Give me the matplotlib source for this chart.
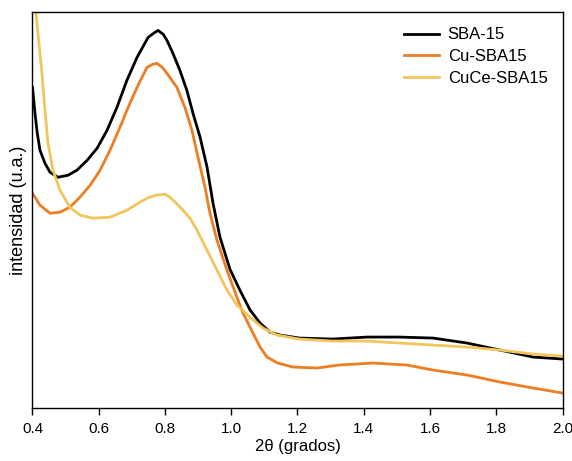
import matplotlib

matplotlib.use("Agg")

import matplotlib.pyplot as plt

plt.rcParams["font.family"] = ["Liberation Sans", "DejaVu Sans"]

# 2theta (degrees) and intensity (arbitrary units)
sba15_x = [0.400, 0.4075, 0.4145, 0.4226, 0.4377, 0.4528, 0.477, 0.507, 0.534, 0.565,
           0.595, 0.625, 0.655, 0.685, 0.7155, 0.749, 0.765, 0.779, 0.795, 0.806,
           0.824, 0.845, 0.866, 0.8845, 0.906, 0.927, 0.945, 0.966, 0.996, 1.026,
           1.057, 1.087, 1.117, 1.147, 1.206, 1.305, 1.41, 1.508, 1.609, 1.712,
           1.811, 1.911, 2.0]
sba15_y = [321, 295, 275, 258, 245, 236, 231, 233, 238, 248,
           260, 278, 301, 328, 351, 371, 375, 378, 374, 368,
           355, 338, 318, 295, 271, 241, 205, 171, 139, 118,
           98, 85, 76, 73, 70, 69, 71, 71, 70, 65,
           58, 51, 49]

cu_x = [0.400, 0.4226, 0.4528, 0.483, 0.513, 0.543, 0.574, 0.604, 0.634, 0.664,
        0.694, 0.720, 0.7457, 0.762, 0.776, 0.792, 0.806, 0.836, 0.860, 0.8815,
        0.8996, 0.9208, 0.9358, 0.957, 0.987, 1.017, 1.0355, 1.0657, 1.087, 1.108,
        1.14, 1.186, 1.259, 1.326, 1.428, 1.53, 1.609, 1.712, 1.811, 1.911,
        2.0]
cu_y = [215, 203, 195, 196, 201, 211, 223, 238, 258, 281,
        305, 324, 341, 344, 345, 341, 335, 321, 301, 278,
        251, 221, 195, 168, 138, 111, 95, 75, 61, 51,
        45, 41, 40, 43, 45, 43, 38, 33, 26, 20,
        15]

cuce_x = [0.400, 0.4127, 0.4278, 0.4377, 0.4468, 0.4619, 0.483, 0.513, 0.543, 0.583,
          0.634, 0.685, 0.7245, 0.7457, 0.772, 0.800, 0.815, 0.8242, 0.84, 0.8543,
          0.8755, 0.8966, 0.9268, 0.957, 0.9872, 1.0174, 1.0566, 1.0958, 1.1381, 1.206,
          1.305, 1.41, 1.508, 1.609, 1.712, 1.811, 1.911, 2.0]
cuce_y = [460, 388, 338, 298, 265, 238, 218, 201, 193, 190,
          191, 198, 206, 210, 213, 214, 211, 208, 203, 198,
          190, 178, 158, 138, 118, 103, 91, 80, 73, 69,
          67, 67, 65, 63, 61, 58, 54, 52]

labels = ["SBA-15", "Cu-SBA15", "CuCe-SBA15"]
colors = ["#000000", "#EE7D22", "#F2C45C"]

fig = plt.figure(figsize=(5.72, 4.61), dpi=100)
ax = fig.add_axes([0.0568, 0.115, 0.9266, 0.858])

for xs, ys, label, color in zip([sba15_x, cu_x, cuce_x], [sba15_y, cu_y, cuce_y], labels, colors):
    ax.plot(xs, ys, color=color, lw=2.0, label=label)

ax.set_xlim(0.4, 2.0)
ax.set_ylim(0, 396)
ax.set_xticks([0.4, 0.6, 0.8, 1.0, 1.2, 1.4, 1.6, 1.8, 2.0])
ax.set_xticklabels(["0.4", "0.6", "0.8", "1.0", "1.2", "1.4", "1.6", "1.8", "2.0"])
ax.set_yticks([])
ax.tick_params(axis="x", direction="out", length=5, width=1, labelsize=11, pad=5)
for spine in ax.spines.values():
    spine.set_linewidth(1.0)

ax.set_xlabel("2θ (grados)", fontsize=12, labelpad=2)
ax.set_ylabel("intensidad (u.a.)", fontsize=13, labelpad=4)

ax.legend(loc="upper right", frameon=False, fontsize=12, handlelength=2.1,
          handletextpad=0.5, labelspacing=0.4, borderaxespad=0.5)

fig.savefig("out.png", dpi=100)
